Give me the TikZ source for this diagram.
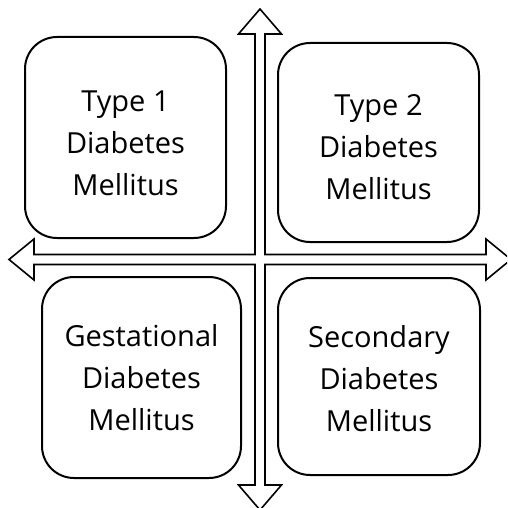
\documentclass[tikz,border=0pt]{standalone}
\usepackage{fontspec}
\setmainfont{Open Sans}[Ligatures=NoCommon]
\newcommand\droptext[2]{\raisebox{-#1}[\height][\depth]{\begin{tabular}{@{}c@{}}#2\end{tabular}}}
\begin{document}
\begin{tikzpicture}[x=1pt,y=-1pt,
  typebox/.style={draw=black,line width=2pt,rounded corners=32pt,
    inner sep=0pt,font=\fontsize{29}{42}\selectfont},
  crossarrow/.style={draw=black,line width=1.6pt,fill=white,line join=miter}]
\useasboundingbox (0,0) rectangle (507,508);
\clip (0,0) rectangle (507,508);
\def\cx{260}\def\cy{259.5}
\draw[crossarrow]
  (\cx,9) -- (\cx+21.5,34) -- (\cx+5,34) -- (\cx+5,\cy-5) -- (486,\cy-5) -- (486,\cy-20.5)
  -- (511,\cy) -- (486,\cy+20.5) -- (486,\cy+5) -- (\cx+5,\cy+5) -- (\cx+5,485)
  -- (\cx+21.5,485) -- (\cx,510) -- (\cx-21.5,485) -- (\cx-5,485) -- (\cx-5,\cy+5)
  -- (34,\cy+5) -- (34,\cy+20.5) -- (9,\cy) -- (34,\cy-20.5) -- (34,\cy-5)
  -- (\cx-5,\cy-5) -- (\cx-5,34) -- (\cx-21.5,34) -- cycle;
\node[typebox,minimum width=201pt,minimum height=201pt] (t1) at (125.5,137.5) {\droptext{7.5pt}{Type 1\\Diabetes\\Mellitus}};
\node[typebox,minimum width=201pt,minimum height=199pt] (t2) at (378.5,142.5) {\droptext{6.5pt}{Type 2\\Diabetes\\Mellitus}};
\node[typebox,minimum width=199pt,minimum height=201pt] (gd) at (141.5,377.5) {\droptext{2.5pt}{Gestational\\Diabetes\\Mellitus}};
\node[typebox,minimum width=202pt,minimum height=197pt] (sd) at (379,376.5) {\droptext{5pt}{Secondary\\Diabetes\\Mellitus}};
\end{tikzpicture}
\end{document}
